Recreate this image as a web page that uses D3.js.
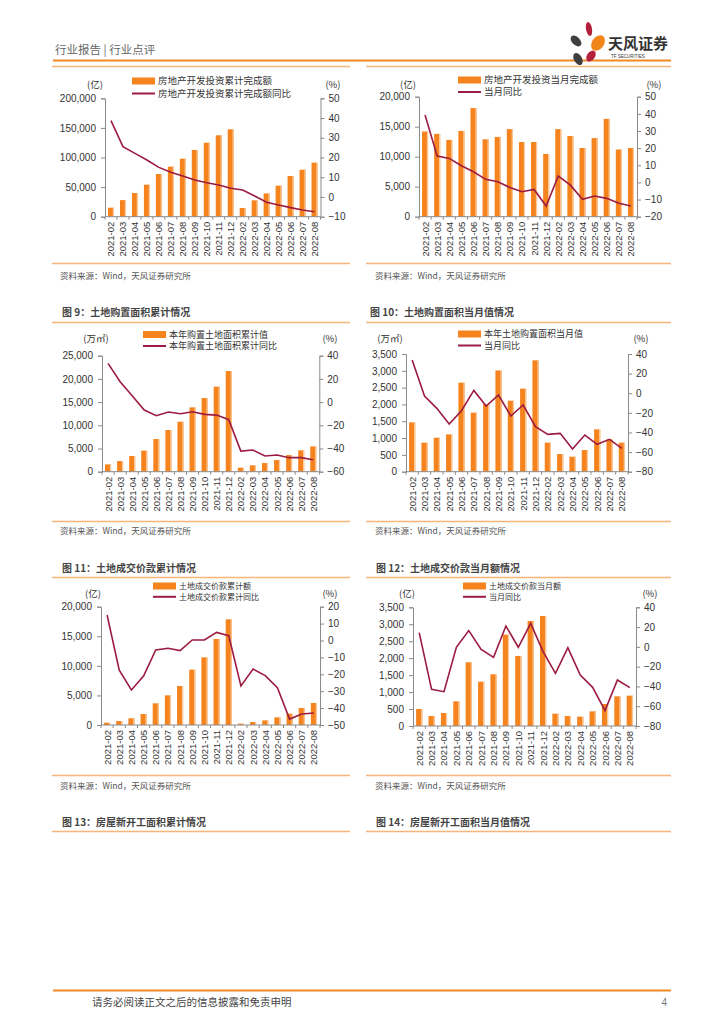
<!DOCTYPE html>
<html>
<head>
<meta charset="utf-8">
<script src="https://cdn.jsdelivr.net/npm/d3@7"></script>
<style>
  body { margin: 0; background: #fff; }
  svg { display: block; }
  .cjk { font-family: "Noto Sans CJK SC", sans-serif; }
  .num { font-family: "Liberation Sans", Arial, sans-serif; }
</style>
</head>
<body>
<div id="page"></div>
<script>
// months shared by all six charts
const months = ["2021-02","2021-03","2021-04","2021-05","2021-06","2021-07","2021-08","2021-09","2021-10","2021-11","2021-12",
                "2022-02","2022-03","2022-04","2022-05","2022-06","2022-07","2022-08"];

// fig 7: investment cumulative (亿) and yoy (%)
const invCum    = [15200,28000,40000,54100,72100,84500,98000,112700,125000,137500,147600,14650,27600,39400,52400,68700,79400,91300];
const invCumYoy = [38.7,25.5,22.1,18.7,15.0,12.5,10.6,8.6,7.2,6.1,4.4,3.5,0.5,-2.7,-4.1,-5.4,-6.6,-7.5];
// fig 8: investment monthly
const invMon    = [14200,13800,12800,14300,18100,12900,13300,14600,12450,12450,10450,14600,13450,11450,13100,16300,11200,11450];
const invMonYoy = [39.3,15.4,14.0,9.7,6.2,1.8,0.4,-2.9,-5.4,-4.1,-13.8,3.7,-1.6,-9.9,-7.9,-9.3,-12.2,-13.8];
// fig 9: land purchase area cumulative (万㎡)
const landCum    = [1580,2300,3380,4530,7040,8980,10780,13870,15880,18320,21700,860,1360,1870,2510,3590,4600,5460];
const landCumYoy = [33.4,17.6,5.5,-6.8,-11.7,-8.6,-10.0,-8.3,-10.6,-11.2,-15.2,-42.2,-41.3,-46.5,-45.6,-47.9,-47.9,-49.7];
// fig 10: land purchase area monthly
const landMon    = [1467,863,1011,1110,2647,1755,2000,3010,2112,2469,3312,863,525,446,644,1259,962,863];
const landMonYoy = [33.9,-2.8,-15.4,-31.4,-17.8,2.9,-13.0,-1.8,-23.2,-12.0,-34.1,-41.9,-40.9,-56.9,-42.6,-52.1,-47.0,-56.2];
// fig 11: land transaction value cumulative (亿)
const dealCum    = [394,676,1127,1859,3662,5014,6592,9352,11437,14536,17860,225,507,789,1296,1916,2873,3718];
const dealCumYoy = [15.1,-17.5,-29.3,-21.0,-5.6,-4.6,-6.0,0.3,0.3,4.8,2.8,-26.9,-16.9,-20.8,-27.9,-46.5,-43.5,-42.9];
// fig 12: land transaction value monthly
const dealMon    = [501,295,383,727,1878,1307,1524,2694,2065,3097,3244,364,295,275,432,649,875,895];
const dealMonYoy = [14.4,-42.9,-45.3,-0.4,16.4,-2.5,-10.6,21.1,-0.4,23.8,-4.8,-26.7,-0.7,-28.4,-40.9,-64.5,-33.5,-41.2];

const barColor = "#F5841F", barEdge = "#FBC99B", lineColor = "#9C1B40", axisColor = "#8a8a8a";
const panelLine = "#F8B57A", headOrange = "#F08A24";

const W = 724, H = 1024;
const svg = d3.select("#page").append("svg").attr("width", W).attr("height", H);
svg.append("rect").attr("width", W).attr("height", H).attr("fill", "#fff");

// ---------- header ----------
svg.append("text").attr("class", "cjk").attr("x", 55).attr("y", 54)
  .attr("font-size", 11.5).attr("fill", "#666").text("行业报告 | 行业点评");
svg.append("line").attr("x1", 53).attr("x2", 671).attr("y1", 60.5).attr("y2", 60.5)
  .attr("stroke", headOrange).attr("stroke-width", 2);

// logo petals
const petals = [
  {cx: 589, cy: 29, rx: 3, ry: 7, r: -10, c: "#B41F3C"},
  {cx: 576, cy: 41, rx: 4, ry: 6.5, r: -45, c: "#3f3f3f"},
  {cx: 598, cy: 43, rx: 6, ry: 8.5, r: 35, c: "#F08519"},
  {cx: 591, cy: 56, rx: 4, ry: 6, r: 35, c: "#B41F3C"},
  {cx: 578, cy: 59, rx: 4, ry: 6.5, r: -30, c: "#3f3f3f"}
];
svg.append("g").selectAll("ellipse").data(petals).join("ellipse")
  .attr("cx", d => d.cx).attr("cy", d => d.cy).attr("rx", d => d.rx).attr("ry", d => d.ry)
  .attr("transform", d => `rotate(${d.r},${d.cx},${d.cy})`).attr("fill", d => d.c);
svg.append("text").attr("class", "cjk").attr("x", 608).attr("y", 49)
  .attr("font-size", 15).attr("font-weight", "bold").attr("fill", "#333").text("天风证券");
svg.append("text").attr("class", "num").attr("x", 611).attr("y", 58)
  .attr("font-size", 4.5).attr("fill", "#333").text("TF SECURITIES");

// ---------- panel frame lines, sources and titles ----------
const panelX = [[52, 350], [366, 671]];
[66.5, 263.5, 322.5, 521.5, 577.5, 775.5, 831.5].forEach(y => {
  panelX.forEach(p => svg.append("line").attr("x1", p[0]).attr("x2", p[1]).attr("y1", y).attr("y2", y)
    .attr("stroke", panelLine).attr("stroke-width", 1.5));
});
[279, 534, 789].forEach(y => {
  [60, 375].forEach(x => svg.append("text").attr("class", "cjk").attr("x", x).attr("y", y)
    .attr("font-size", 8.5).attr("fill", "#555").text("资料来源：Wind，天风证券研究所"));
});
const titles = [
  {x: 62, y: 316, t: "图 9：土地购置面积累计情况"},
  {x: 370, y: 316, t: "图 10：土地购置面积当月值情况"},
  {x: 62, y: 572, t: "图 11：土地成交价款累计情况"},
  {x: 376, y: 572, t: "图 12：土地成交价款当月额情况"},
  {x: 62, y: 826, t: "图 13：房屋新开工面积累计情况"},
  {x: 376, y: 826, t: "图 14：房屋新开工面积当月值情况"}
];
svg.append("g").selectAll("text").data(titles).join("text").attr("class", "cjk")
  .attr("x", d => d.x).attr("y", d => d.y).attr("font-size", 10).attr("font-weight", "bold")
  .attr("fill", "#444").text(d => d.t);

// ---------- footer ----------
svg.append("line").attr("x1", 53).attr("x2", 671).attr("y1", 990.5).attr("y2", 990.5)
  .attr("stroke", headOrange).attr("stroke-width", 2);
svg.append("text").attr("class", "cjk").attr("x", 92).attr("y", 1006)
  .attr("font-size", 10.5).attr("fill", "#444").text("请务必阅读正文之后的信息披露和免责申明");
svg.append("text").attr("class", "num").attr("x", 667).attr("y", 1006).attr("text-anchor", "end")
  .attr("font-size", 10).attr("fill", "#777").text("4");

// ---------- chart builder ----------
function chart(o) {
  const g = svg.append("g");
  const x = d3.scaleBand().domain(months).range([o.x0, o.x1]).paddingInner(0.5).paddingOuter(0.25);
  const yL = d3.scaleLinear().domain(o.left).range([o.yBot, o.yTop]);
  const yR = d3.scaleLinear().domain(o.right).range([o.yBot, o.yTop]);

  const leftAxis = d3.axisLeft(yL).tickValues(d3.range(o.left[0], o.left[1] + 1, o.lstep))
    .tickFormat(d3.format(",")).tickSize(4).tickPadding(5);
  const rightAxis = d3.axisRight(yR).tickValues(d3.range(o.right[0], o.right[1] + 0.1, o.rstep))
    .tickSize(4).tickPadding(4);

  const styleAxis = a => {
    a.select(".domain").attr("stroke", axisColor);
    a.selectAll(".tick line").attr("stroke", axisColor);
    a.selectAll("text").attr("class", "num").attr("font-size", 10).attr("fill", "#333");
  };
  g.append("g").attr("transform", `translate(${o.x0},0)`).call(leftAxis).call(styleAxis);
  g.append("g").attr("transform", `translate(${o.x1},0)`).call(rightAxis).call(styleAxis);

  // bars
  const bars = g.append("g").selectAll("g").data(o.bars).join("g");
  bars.append("rect")
    .attr("x", (d, i) => x(months[i])).attr("width", x.bandwidth())
    .attr("y", d => yL(d)).attr("height", d => o.yBot - yL(d)).attr("fill", barColor);
  bars.append("rect")
    .attr("x", (d, i) => x(months[i]) + x.bandwidth() - 1.2).attr("width", 1.2)
    .attr("y", d => yL(d)).attr("height", d => o.yBot - yL(d)).attr("fill", barEdge);

  // x axis
  g.append("line").attr("x1", o.x0).attr("x2", o.x1).attr("y1", o.yBot).attr("y2", o.yBot)
    .attr("stroke", axisColor);
  g.append("g").selectAll("line").data(d3.range(months.length + 1)).join("line")
    .attr("x1", i => o.x0 + i * x.step()).attr("x2", i => o.x0 + i * x.step())
    .attr("y1", o.yBot).attr("y2", o.yBot + 3).attr("stroke", axisColor);
  g.append("g").selectAll("text").data(months).join("text").attr("class", "num")
    .attr("transform", d => `translate(${x(d) + x.bandwidth() / 2 + 3.5},${o.yBot + 5}) rotate(-90)`)
    .attr("text-anchor", "end").attr("font-size", 9.5).attr("fill", "#333").text(d => d);

  // line
  const line = d3.line().x((d, i) => x(months[i]) + x.bandwidth() / 2).y(d => yR(d));
  g.append("path").datum(o.line).attr("d", line).attr("fill", "none")
    .attr("stroke", lineColor).attr("stroke-width", 1.6);

  // units
  g.append("text").attr("class", "cjk").attr("x", o.unitL[0]).attr("y", o.unitL[1])
    .attr("text-anchor", "middle").attr("font-size", 9.5).attr("fill", "#333").text(o.unit);
  g.append("text").attr("class", "cjk").attr("x", o.unitR[0]).attr("y", o.unitL[1])
    .attr("text-anchor", "middle").attr("font-size", 9.5).attr("fill", "#333").text("(%)");

  // legend
  const lx = o.leg[0], ly = o.leg[1], fs = o.lfs;
  g.append("rect").attr("x", lx).attr("y", ly - 3.5).attr("width", 23).attr("height", 7).attr("fill", barColor);
  g.append("text").attr("class", "cjk").attr("x", lx + 26).attr("y", ly + fs * 0.36)
    .attr("font-size", fs).attr("fill", "#333").text(o.names[0]);
  g.append("line").attr("x1", lx).attr("x2", lx + 23).attr("y1", ly + o.gap).attr("y2", ly + o.gap)
    .attr("stroke", lineColor).attr("stroke-width", 2);
  g.append("text").attr("class", "cjk").attr("x", lx + 26).attr("y", ly + o.gap + fs * 0.36)
    .attr("font-size", fs).attr("fill", "#333").text(o.names[1]);
}

chart({x0: 105, x1: 320.5, yTop: 98.3, yBot: 216.7, left: [0, 200000], lstep: 50000, right: [-10, 50], rstep: 10,
  bars: invCum, line: invCumYoy, unit: "(亿)", unitL: [95, 88], unitR: [333, 88], leg: [132, 81], gap: 12.5, lfs: 9.5,
  names: ["房地产开发投资累计完成额", "房地产开发投资累计完成额同比"]});
chart({x0: 419, x1: 637, yTop: 96.7, yBot: 216.7, left: [0, 20000], lstep: 5000, right: [-20, 50], rstep: 10,
  bars: invMon, line: invMonYoy, unit: "(亿)", unitL: [408, 88], unitR: [654, 88], leg: [458, 80], gap: 12, lfs: 9.5,
  names: ["房地产开发投资当月完成额", "当月同比"]});
chart({x0: 102, x1: 319.3, yTop: 355.7, yBot: 471.7, left: [0, 25000], lstep: 5000, right: [-60, 40], rstep: 20,
  bars: landCum, line: landCumYoy, unit: "(万㎡)", unitL: [96, 342], unitR: [330, 342], leg: [143, 334.5], gap: 11.5, lfs: 9,
  names: ["本年购置土地面积累计值", "本年购置土地面积累计同比"]});
chart({x0: 406, x1: 628, yTop: 354, yBot: 471.7, left: [0, 3500], lstep: 500, right: [-80, 40], rstep: 20,
  bars: landMon, line: landMonYoy, unit: "(万㎡)", unitL: [390, 342], unitR: [641, 342], leg: [458, 334], gap: 11.5, lfs: 9,
  names: ["本年土地购置面积当月值", "当月同比"]});
chart({x0: 101, x1: 320, yTop: 606.7, yBot: 725, left: [0, 20000], lstep: 5000, right: [-50, 20], rstep: 10,
  bars: dealCum, line: dealCumYoy, unit: "(亿)", unitL: [93, 597], unitR: [330, 597], leg: [153, 586], gap: 10.8, lfs: 8,
  names: ["土地成交价款累计额", "土地成交价款累计同比"]});
chart({x0: 413, x1: 636, yTop: 607.3, yBot: 726, left: [0, 3500], lstep: 500, right: [-80, 40], rstep: 20,
  bars: dealMon, line: dealMonYoy, unit: "(亿)", unitL: [407, 597], unitR: [650, 597], leg: [463, 586], gap: 10.8, lfs: 8,
  names: ["土地成交价款当月额", "当月同比"]});
</script>
</body>
</html>
